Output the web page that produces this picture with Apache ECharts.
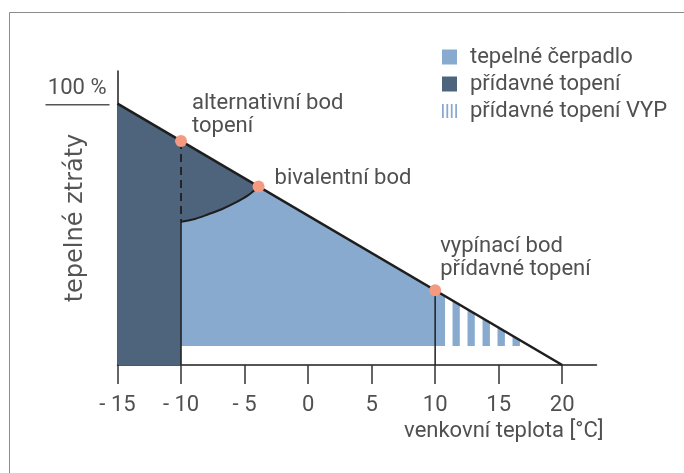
<!DOCTYPE html>
<html>
<head>
<meta charset="utf-8">
<title>bivalentní bod</title>
<script src="https://cdn.jsdelivr.net/npm/echarts@6/dist/echarts.min.js"></script>
<style>
  html, body { margin: 0; padding: 0; background: #fff; }
  #main { width: 684px; height: 473px; }
</style>
</head>
<body>
<div id="main"></div>
<script>
// tepelné ztráty (load line), % versus venkovní teplota
const lossX = [-15, 20];
const lossY = [100, 0];
// heat pump capacity curve between -10 and the bivalent point
const arcX = [-10, -8.9, -7.9, -6.8, -5.8, -4.7, -3.9];
const arcY = [54.8, 55.9, 57.6, 59.6, 61.9, 65.0, 68.3];
// marked points
const pointX = [-10, -3.9, 10];
const pointY = [85.7, 68.3, 28.6];
const pointLabels = ['alternativní bod\ntopení', 'bivalentní bod', 'vypínací bod\npřídavné topení'];
// lower edge of the heat pump area
const pumpFloor = 7.3;
// stripes "přídavné topení VYP"
const stripeStart = [10, 11.37, 12.55, 13.73, 14.91, 16.09];
const stripeEnd = [10.78, 11.94, 13.12, 14.31, 15.49, 16.67];
const xTicks = [-15, -10, -5, 0, 5, 10, 15, 20];
const yTicks = [100];

const DARK = '#4d647c';
const LIGHT = '#88aacf';
const DOT = '#f49a80';
const TEXT = '#505050';
const FONT = 'Roboto';

const chart = echarts.init(document.getElementById('main'));

function polygonSeries(name, xs, ys, color) {
    return {
        name: name,
        type: 'custom',
        silent: true,
        z: 1,
        itemStyle: {color: color},
        data: [[xs[0], ys[0]]],
        renderItem: function (params, api) {
            return {
                type: 'polygon',
                shape: {points: xs.map((x, i) => api.coord([x, ys[i]]))},
                style: {fill: color}
            };
        }
    };
}

function segment(data, width, type) {
    return {
        type: 'line',
        data: data,
        symbol: 'none',
        silent: true,
        z: 3,
        lineStyle: {color: '#1e1e1e', width: width, type: type || 'solid'}
    };
}

const darkX = [-15, -15].concat(arcX.slice().reverse(), [arcX[0]]);
const darkY = [0, lossY[0]].concat(arcY.slice().reverse(), [0]);
const lightX = arcX.concat([pointX[2], pointX[2], arcX[0]]);
const lightY = arcY.concat([pointY[2], pumpFloor, pumpFloor]);

const labelOffsets = [[0, -26], [5, -8], [-6, -32]];

const frame = {
    id: 'frame',
    type: 'rect',
    shape: {x: 9.5, y: 12.5, width: 800, height: 600},
    style: {fill: 'none', stroke: '#8c8c8c', lineWidth: 1}
};

const option = {
    animation: false,
    textStyle: {fontFamily: FONT},
    graphic: [frame],
    legend: {
        orient: 'vertical',
        left: 442,
        top: 46,
        padding: 0,
        itemWidth: 15,
        itemHeight: 15,
        itemGap: 5,
        selectedMode: false,
        textStyle: {fontSize: 22, lineHeight: 22, color: TEXT, fontFamily: FONT, padding: [0, 0, 0, 8]},
        data: [
            {name: 'tepelné čerpadlo', icon: 'rect'},
            {name: 'přídavné topení', icon: 'rect'},
            {name: 'přídavné topení VYP', icon: 'path://M0,0h2v16h-2z M5,0h2v16h-2z M10,0h2v16h-2z M15,0h2v16h-2z'}
        ]
    },
    grid: {left: 117.5, right: 87.5, top: 71, bottom: 108},
    xAxis: [{
        type: 'value',
        min: -15,
        max: 22.7,
        position: 'bottom',
        axisLine: {show: true, onZero: false, lineStyle: {color: '#1e1e1e', width: 1.5}},
        axisTick: {show: false},
        axisLabel: {show: false},
        splitLine: {show: false}
    }, {
        type: 'value',
        min: -15,
        max: 22.7,
        position: 'bottom',
        offset: 7,
        axisLine: {show: false},
        axisTick: {show: true, length: 19, customValues: xTicks, lineStyle: {color: '#333', width: 1.5}},
        axisLabel: {
            customValues: xTicks,
            margin: 22,
            fontSize: 22,
            color: TEXT,
            formatter: v => (v < 0 ? '- ' + Math.abs(v) : String(v))
        },
        splitLine: {show: false},
        name: 'venkovní teplota [°C]',
        nameLocation: 'end',
        nameGap: 7,
        nameTextStyle: {fontSize: 22, color: TEXT, align: 'right', verticalAlign: 'top', padding: [55, 0, 0, 0]}
    }],
    yAxis: [{
        type: 'value',
        min: 0,
        max: 112.5,
        axisLine: {show: true, onZero: false, lineStyle: {color: '#1e1e1e', width: 1.5}},
        axisTick: {show: false},
        axisLabel: {show: false},
        splitLine: {show: false},
        name: 'tepelné ztráty',
        nameLocation: 'middle',
        nameGap: 30,
        nameTextStyle: {fontSize: 24, color: '#555', fontFamily: 'DejaVu Sans'}
    }, {
        type: 'value',
        min: 0,
        max: 112.5,
        position: 'left',
        axisLine: {show: false},
        axisTick: {show: false},
        axisLabel: {
            customValues: yTicks,
            margin: 11,
            fontSize: 22,
            color: TEXT,
            verticalAlign: 'bottom',
            padding: [0, 0, 4, 0],
            formatter: v => v + ' %'
        },
        splitLine: {show: false}
    }],
    series: [
        polygonSeries('přídavné topení', darkX, darkY, DARK),
        polygonSeries('tepelné čerpadlo', lightX, lightY, LIGHT),
        {
            name: 'přídavné topení VYP',
            type: 'custom',
            silent: true,
            z: 1,
            itemStyle: {color: LIGHT},
            data: stripeStart.map((s, i) => [s, stripeEnd[i]]),
            renderItem: function (params, api) {
                const p0 = api.coord([api.value(0), pumpFloor]);
                const p1 = api.coord([api.value(1), lossY[0]]);
                return {
                    type: 'rect',
                    shape: {x: p0[0], y: p1[1], width: p1[0] - p0[0], height: p0[1] - p1[1]},
                    style: {fill: LIGHT},
                    clipPath: {
                        type: 'polygon',
                        shape: {points: [
                            api.coord([lossX[0], lossY[0]]),
                            api.coord([lossX[1], lossY[1]]),
                            api.coord([lossX[0], 0])
                        ]}
                    }
                };
            }
        },
        segment(lossX.map((x, i) => [x, lossY[i]]), 2.6),
        Object.assign(segment(arcX.map((x, i) => [x, arcY[i]]), 2), {smooth: 0.3}),
        segment([[pointX[0], pointY[0]], [arcX[0], arcY[0]]], 1.8, [8, 5]),
        segment([[arcX[0], arcY[0]], [arcX[0], 0]], 1.5),
        segment([[pointX[2], pointY[2]], [pointX[2], 0]], 1.5),
        {
            type: 'scatter',
            symbolSize: 12,
            z: 5,
            silent: true,
            itemStyle: {color: DOT, opacity: 1},
            label: {
                show: true,
                position: 'right',
                distance: 5,
                fontSize: 22,
                lineHeight: 23,
                color: TEXT,
                fontFamily: FONT,
                formatter: p => pointLabels[p.dataIndex]
            },
            data: pointX.map((x, i) => ({value: [x, pointY[i]], label: {offset: labelOffsets[i]}}))
        }
    ]
};

chart.setOption(option);

// underline under the "100 %" label, placed through the axis scales
const y100 = chart.convertToPixel({yAxisIndex: 0}, yTicks[0]);
const axisX = chart.convertToPixel({xAxisIndex: 0}, xTicks[0]);
chart.setOption({
    graphic: [frame, {
        id: 'underline',
        type: 'line',
        shape: {x1: axisX - 72, y1: y100 + 1, x2: axisX - 8, y2: y100 + 1},
        style: {stroke: '#555', lineWidth: 1.5}
    }]
});
</script>
</body>
</html>
